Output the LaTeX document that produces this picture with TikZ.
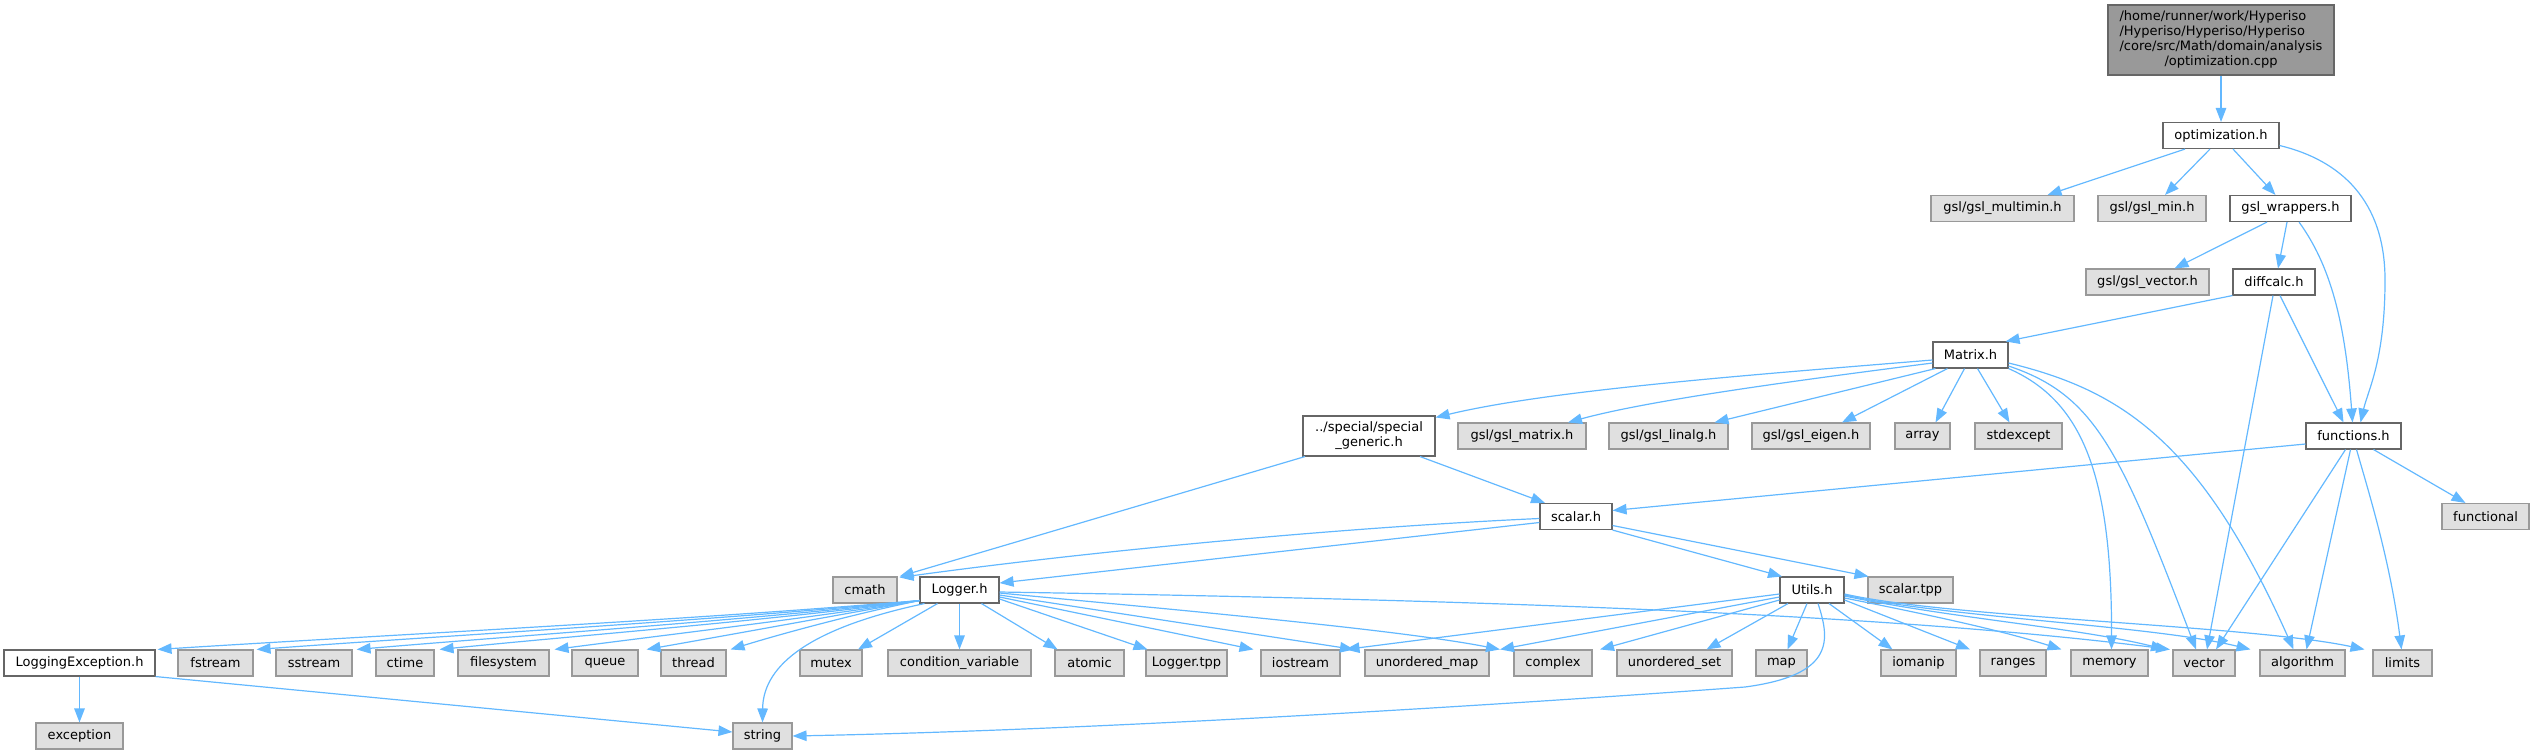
\documentclass[tikz,border=0pt]{standalone}
\usepackage{fontspec}
\setmainfont{DejaVu Sans}
\usetikzlibrary{arrows.meta,calc}
\definecolor{edgec}{HTML}{63B8FF}
\definecolor{bordw}{HTML}{666666}
\definecolor{bordg}{HTML}{999999}
\definecolor{fillg}{HTML}{E0E0E0}
\definecolor{topfill}{HTML}{999999}
\begin{document}
\begin{tikzpicture}[x=1pt,y=-1pt,
  every node/.style={font=\fontsize{13}{15}\selectfont, inner sep=0pt, line width=1.1pt},
  wbox/.style={draw=bordw, fill=white, minimum height=26pt},
  gbox/.style={draw=bordg, fill=fillg, minimum height=26pt},
  edge/.style={draw=edgec, line width=1.2pt, -{Triangle[length=14pt,width=10.5pt]}}]
\useasboundingbox (0,0) rectangle (2534,755);
% ---------- nodes ----------
\node[draw=bordw, fill=topfill, minimum width=226pt, minimum height=70pt] (top) at (2221,40)
  {\begin{tabular}{@{}l@{}}/home/runner/work/Hyperiso\\/Hyperiso/Hyperiso/Hyperiso\\/core/src/Math/domain/analysis\\\multicolumn{1}{@{}c@{}}{/optimization.cpp}\end{tabular}};
\node[wbox, minimum width=116pt] (opt) at (2221,135.5) {optimization.h};
\node[gbox, minimum width=143pt] (multimin) at (2002.5,208.5) {gsl/gsl\_multimin.h};
\node[gbox, minimum width=108pt] (min) at (2152,208.5) {gsl/gsl\_min.h};
\node[wbox, minimum width=121pt] (wrappers) at (2290.5,208.5) {gsl\_wrappers.h};
\node[gbox, minimum width=123pt] (gslvector) at (2147.5,282) {gsl/gsl\_vector.h};
\node[wbox, minimum width=82pt] (diffcalc) at (2274,282) {diffcalc.h};
\node[wbox, minimum width=75pt] (matrix) at (1970.5,355) {Matrix.h};
\node[wbox, minimum width=132pt, minimum height=40pt, align=center] (special) at (1369,436) {../special/special\\\_generic.h};
\node[gbox, minimum width=128pt] (gslmatrix) at (1522,436) {gsl/gsl\_matrix.h};
\node[gbox, minimum width=119pt] (gsllinalg) at (1668.5,436) {gsl/gsl\_linalg.h};
\node[gbox, minimum width=118pt] (gsleigen) at (1811,436) {gsl/gsl\_eigen.h};
\node[gbox, minimum width=55pt] (array) at (1922.5,436) {array};
\node[gbox, minimum width=87pt] (stdexcept) at (2018.5,436) {stdexcept};
\node[wbox, minimum width=95pt] (functions) at (2353.5,436) {functions.h};
\node[gbox, minimum width=87pt] (functional) at (2485.5,516.5) {functional};
\node[wbox, minimum width=72pt] (scalar) at (1576,516.5) {scalar.h};
\node[gbox, minimum width=64pt] (cmath) at (865,590) {cmath};
\node[wbox, minimum width=79pt] (logger) at (959.5,590) {Logger.h};
\node[wbox, minimum width=64pt] (utils) at (1812,590) {Utils.h};
\node[gbox, minimum width=85pt] (scalartpp) at (1910.5,590) {scalar.tpp};
\node[wbox, minimum width=151pt] (logexc) at (79.5,663) {LoggingException.h};
\node[gbox, minimum width=75pt] (fstream) at (215.5,663) {fstream};
\node[gbox, minimum width=76pt] (sstream) at (314,663) {sstream};
\node[gbox, minimum width=58pt] (ctime) at (405,663) {ctime};
\node[gbox, minimum width=91pt] (filesystem) at (503.5,663) {filesystem};
\node[gbox, minimum width=66pt] (queue) at (605,663) {queue};
\node[gbox, minimum width=65pt] (thread) at (693.5,663) {thread};
\node[gbox, minimum width=62pt] (mutex) at (831,663) {mutex};
\node[gbox, minimum width=143pt] (condvar) at (959.5,663) {condition\_variable};
\node[gbox, minimum width=69pt] (atomic) at (1089.5,663) {atomic};
\node[gbox, minimum width=81pt] (loggertpp) at (1186.5,663) {Logger.tpp};
\node[gbox, minimum width=79pt] (iostream) at (1300.5,663) {iostream};
\node[gbox, minimum width=124pt] (umap) at (1427,663) {unordered\_map};
\node[gbox, minimum width=78pt] (complex) at (1553,663) {complex};
\node[gbox, minimum width=115pt] (uset) at (1674.5,663) {unordered\_set};
\node[gbox, minimum width=51pt] (map) at (1781.5,663) {map};
\node[gbox, minimum width=75pt] (iomanip) at (1918.5,663) {iomanip};
\node[gbox, minimum width=66pt] (ranges) at (2013,663) {ranges};
\node[gbox, minimum width=77pt] (memory) at (2109.5,663) {memory};
\node[gbox, minimum width=62pt] (vector) at (2204,663) {vector};
\node[gbox, minimum width=85pt] (algorithm) at (2302.5,663) {algorithm};
\node[gbox, minimum width=59pt] (limits) at (2402.5,663) {limits};
\node[gbox, minimum width=87pt] (exception) at (79.5,736) {exception};
\node[gbox, minimum width=59pt] (string) at (762.5,736) {string};
% ---------- edges ----------
\draw[edge] (top) -- (opt);
\draw[edge] ([xshift=-36pt]opt.south) -- ([xshift=45pt]multimin.north);
\draw[edge] ([xshift=-11pt]opt.south) -- ([xshift=13pt]min.north);
\draw[edge] ([xshift=12pt]opt.south) -- ([xshift=-15pt]wrappers.north);
\draw[edge] ([yshift=-10pt]opt.east) .. controls (2340,160) and (2385,200) .. (2385,280)
   .. controls (2385,360) and (2368,390) .. ([xshift=7pt]functions.north);
\draw[edge] ([xshift=-23.5pt]wrappers.south) -- ([xshift=27pt]gslvector.north);
\draw[edge] ([xshift=-3.5pt]wrappers.south) -- ([xshift=4pt]diffcalc.north);
\draw[edge] ([xshift=8.5pt]wrappers.south) .. controls (2330,265) and (2345,320) .. ([xshift=-1pt]functions.north);
\draw[edge] (diffcalc.south west) -- ([xshift=-3pt]matrix.north east);
\draw[edge] ([xshift=-1pt]diffcalc.south) -- ([xshift=3pt]vector.north);
\draw[edge] ([xshift=6pt]diffcalc.south) -- ([xshift=-10pt]functions.north);
% Matrix.h
\draw[edge] ([yshift=-5pt]matrix.west) .. controls (1750,375) and (1550,390) .. ([yshift=-2pt]special.north east);
\draw[edge] ([yshift=-8pt]matrix.west) .. controls (1800,380) and (1650,400) .. ([xshift=46pt]gslmatrix.north);
\draw[edge] ([xshift=3pt]matrix.south west) -- ([xshift=46pt]gsllinalg.north);
\draw[edge] ([xshift=15pt]matrix.south west) -- ([xshift=31pt]gsleigen.north);
\draw[edge] ([xshift=-6pt]matrix.south) -- ([xshift=13pt]array.north);
\draw[edge] ([xshift=7pt]matrix.south) -- ([xshift=-9pt]stdexcept.north);
\draw[edge] (matrix.south east) .. controls (2080,400) and (2112,470) .. ([xshift=2pt]memory.north);
\draw[edge] ([yshift=-11pt]matrix.east) .. controls (2095,395) and (2120,450) .. ([xshift=-8pt]vector.north);
\draw[edge] ([yshift=-8pt]matrix.east) .. controls (2120,390) and (2200,440) .. ([xshift=-9pt]algorithm.north);
% functions.h
\draw[edge] ([yshift=-8pt]functions.west) -- ([yshift=6pt]scalar.east);
\draw[edge] ([xshift=20pt]functions.south) -- ([xshift=-20pt]functional.north);
\draw[edge] ([xshift=-8pt]functions.south) -- ([xshift=12pt]vector.north);
\draw[edge] ([xshift=-3pt]functions.south) -- ([xshift=4pt]algorithm.north);
\draw[edge] ([xshift=3pt]functions.south) .. controls (2368,490) and (2390,560) .. ([xshift=-1pt]limits.north);
% special_generic.h
\draw[edge] ([xshift=-64pt]special.south) -- ([xshift=2pt]cmath.north east);
\draw[edge] ([xshift=51pt]special.south) -- ([xshift=-31pt]scalar.north);
% scalar.h
\draw[edge] ([yshift=-2pt]scalar.west) .. controls (1350,527) and (1100,550) .. ([xshift=2pt,yshift=-1pt]cmath.north east);
\draw[edge] ([yshift=-6pt]scalar.west) -- ([yshift=7pt]logger.east);
\draw[edge] (scalar.south east) -- ([xshift=-30pt]utils.north);
\draw[edge] ([yshift=-9pt]scalar.east) -- ([xshift=-42pt]scalartpp.north);
% Logger.h
\draw[edge] ([yshift=3pt]logger.south west) .. controls (690,620) and (386,635) .. ([xshift=2pt]logexc.north east);
\draw[edge] ([yshift=3pt]logger.south west) .. controls (721,620) and (456,635) .. ([xshift=3pt]fstream.north east);
\draw[edge] ([yshift=3pt]logger.south west) .. controls (751,620) and (526,635) .. ([xshift=4pt]sstream.north east);
\draw[edge] ([yshift=3pt]logger.south west) .. controls (776,620) and (584,635) .. ([xshift=5pt]ctime.north east);
\draw[edge] ([yshift=3pt]logger.south west) .. controls (810,618) and (665,635) .. ([xshift=5pt]filesystem.north east);
\draw[edge] ([yshift=3pt]logger.south west) .. controls (838,615) and (729,635) .. ([xshift=8pt]queue.north east);
\draw[edge] ([yshift=3pt]logger.south west) .. controls (863,612) and (787,632) .. ([xshift=4pt]thread.north east);
\draw[edge] ([xshift=-22pt]logger.south) -- ([xshift=27pt]mutex.north);
\draw[edge] (logger) -- (condvar);
\draw[edge] ([xshift=22pt]logger.south) -- ([xshift=-32pt]atomic.north);
\draw[edge] ([yshift=-9pt]logger.east) -- ([xshift=-39pt]loggertpp.north);
\draw[edge] ([yshift=-7pt]logger.east) -- ([xshift=-47pt]iostream.north);
\draw[edge] ([yshift=-5pt]logger.east) -- ([xshift=-73pt]umap.north);
\draw[edge] ([yshift=-3pt]logger.east) .. controls (1200,612) and (1400,630) .. ([xshift=-53pt]complex.north);
\draw[edge] ([yshift=-2pt]logger.east) .. controls (1500,600) and (1900,615) .. ([xshift=-34pt]vector.north);
\draw[edge] ([xshift=-35pt]logger.south) .. controls (800,630) and (763,670) .. (string.north);
% Utils.h
\draw[edge] ([yshift=-4pt]utils.west) -- ([xshift=45pt]iostream.north);
\draw[edge] ([yshift=-7pt]utils.west) -- ([xshift=73pt]umap.north);
\draw[edge] ([yshift=-10pt]utils.west) -- ([xshift=47pt]complex.north);
\draw[edge] ([xshift=-24pt]utils.south) -- ([xshift=32pt]uset.north);
\draw[edge] ([xshift=-5pt]utils.south) -- ([xshift=6pt]map.north);
\draw[edge] ([xshift=6pt]utils.south) .. controls (1830,640) and (1835,675) .. (1745,687)
   .. controls (1500,705) and (1100,730) .. (string.east);
\draw[edge] ([xshift=17pt]utils.south) -- ([xshift=-26pt]iomanip.north);
\draw[edge] ([yshift=-10pt]utils.east) -- ([xshift=-43pt]ranges.north);
\draw[edge] ([yshift=-8pt]utils.east) .. controls (1930,615) and (2000,630) .. ([xshift=-48pt]memory.north);
\draw[edge] ([yshift=-6pt]utils.east) .. controls (1950,618) and (2080,628) .. ([xshift=-39pt]vector.north);
\draw[edge] ([yshift=-5pt]utils.east) .. controls (1950,618) and (2150,625) .. ([xshift=-52pt]algorithm.north);
\draw[edge] ([yshift=-4pt]utils.east) .. controls (1950,618) and (2250,625) .. ([xshift=-38pt]limits.north);
% LoggingException.h
\draw[edge] (logexc) -- (exception);
\draw[edge] (logexc.south east) -- ([yshift=4pt]string.west);
\end{tikzpicture}
\end{document}
